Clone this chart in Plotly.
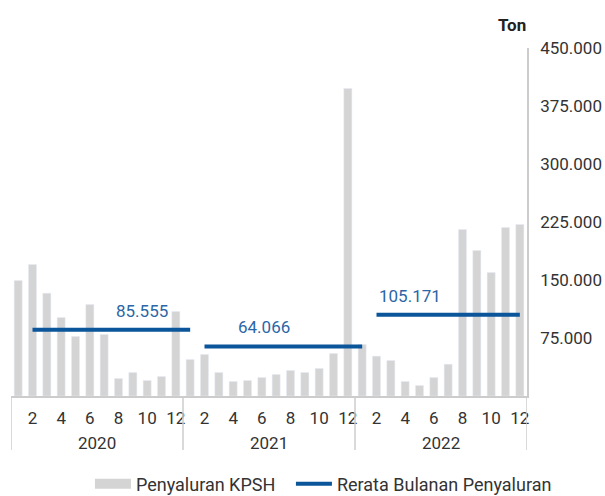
import plotly.graph_objects as go

years = ["2020", "2021", "2022"]
months = list(range(1, 13))
kpsh_2020 = [149400, 170000, 133000, 101500, 77000, 118300, 79500, 22600, 30400, 20000, 25200, 109300]
kpsh_2021 = [47200, 53700, 30400, 18800, 20000, 23900, 27800, 33000, 30400, 35600, 55000, 397600]
kpsh_2022 = [66600, 51500, 45900, 18800, 13600, 23900, 41100, 215300, 188200, 159700, 217900, 221800]
avg_values = [85555, 64066, 105171]
avg_labels = ["85.555", "64.066", "105.171"]
y_ticks = [75000, 150000, 225000, 300000, 375000, 450000]
y_tick_labels = ["75.000", "150.000", "225.000", "300.000", "375.000", "450.000"]
month_tick_labels = ["2", "4", "6", "8", "10", "12"]

BAR = "#d4d4d4"
LINE = "#0b559a"
TXT = "#2b66a6"
FONT = "Roboto"
GRAY = "#333333"
AX = "#cccccc"

series = [kpsh_2020, kpsh_2021, kpsh_2022]
n = 12 * len(years)
xs = list(range(n))
vals = [v for s in series for v in s]

fig = go.Figure()
fig.add_trace(go.Bar(x=xs, y=vals, marker_color=BAR, name="Penyaluran KPSH",
                     width=0.56, hoverinfo="y", showlegend=False))
# legend swatch for the bars (wide rectangle like the reference)
fig.add_trace(go.Scatter(x=[None], y=[None], mode="lines", name="Penyaluran KPSH",
                         line=dict(color=BAR, width=12), legend="legend"))

for i, (a, lab) in enumerate(zip(avg_values, avg_labels)):
    x0 = i * 12 + 1
    x1 = min(i * 12 + 12, n - 1)
    fig.add_trace(go.Scatter(x=[x0, x1], y=[a, a], mode="lines",
                             line=dict(color=LINE, width=4),
                             name="Rerata Bulanan Penyaluran", legend="legend2",
                             showlegend=(i == 0), hoverinfo="y"))

label_x = [8.67, 17.12, 27.32]
for lx, a, lab in zip(label_x, avg_values, avg_labels):
    fig.add_annotation(x=lx, y=a, xref="x", yref="y", text=lab, showarrow=False,
                       yshift=19, font=dict(family=FONT, size=17, color=TXT))

# year labels and dividers
for i, yr in enumerate(years):
    fig.add_annotation(x=i * 12 + 5.5, y=-0.135, xref="x", yref="paper", text=yr,
                       showarrow=False, font=dict(family=FONT, size=17, color=GRAY),
                       yanchor="middle")
for i in range(len(years) + 1):
    fig.add_shape(type="line", x0=i * 12 - 0.5, x1=i * 12 - 0.5, xref="x",
                  y0=0, y1=-0.155, yref="paper", line=dict(color=AX, width=1.5))

fig.add_annotation(x=1, xref="paper", xanchor="right", xshift=1, y=1, yref="paper",
                   yanchor="middle", yshift=23, text="<b>Ton</b>", showarrow=False,
                   font=dict(family=FONT, size=17, color="#222222"))

tickvals = [i * 12 + m - 1 for i in range(len(years)) for m in (2, 4, 6, 8, 10, 12)]
ticktext = month_tick_labels * len(years)

legend_style = dict(orientation="h", xanchor="left", y=-0.253, yanchor="middle",
                    font=dict(family=FONT, size=18, color=GRAY), itemwidth=36,
                    tracegroupgap=0, bgcolor="rgba(0,0,0,0)")

fig.update_layout(
    width=605, height=496,
    margin=dict(l=11, r=78, t=48, b=100, autoexpand=False),
    paper_bgcolor="white", plot_bgcolor="white",
    font=dict(family=FONT, size=17, color=GRAY),
    showlegend=True,
    legend=dict(x=0.153, **legend_style),
    legend2=dict(x=0.5425, **legend_style),
    bargap=0.44,
)
fig.update_xaxes(range=[-0.5, n - 0.5], tickvals=tickvals, ticktext=ticktext,
                 showline=True, linecolor=AX, linewidth=1.5, showgrid=False,
                 zeroline=False, ticks="", ticklabelstandoff=6, automargin=False,
                 tickfont=dict(family=FONT, size=17, color=GRAY))
fig.update_yaxes(range=[0, 450000], side="right", tickvals=y_ticks, ticktext=y_tick_labels,
                 showline=True, linecolor=AX, linewidth=1.5, showgrid=False,
                 zeroline=False, ticks="", ticklabelstandoff=8, automargin=False,
                 tickfont=dict(family=FONT, size=17, color=GRAY))

fig.write_html("out.html", config={"displayModeBar": False},
               post_script="document.body.style.margin='0';document.body.style.overflow='hidden';")
